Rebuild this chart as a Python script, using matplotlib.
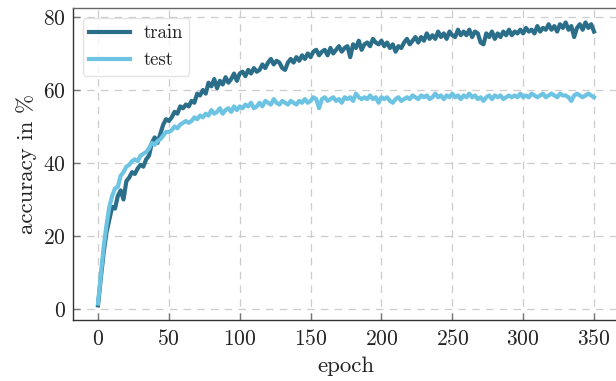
import matplotlib
matplotlib.use("Agg")
import matplotlib.pyplot as plt

epochs = list(range(0, 351, 2))

train_acc = [
    1.0, 8.5, 15.5, 21.0, 24.5, 28.0, 27.5, 31.0, 32.5, 30.0,
    35.0, 36.0, 37.5, 37.0, 38.5, 39.5, 39.0, 41.0, 42.0, 45.5,
    47.0, 45.5, 48.0, 50.5, 52.0, 51.5, 52.5, 54.0, 53.5, 55.5,
    55.0, 56.0, 55.5, 57.0, 56.5, 59.0, 58.5, 60.0, 59.0, 62.0,
    61.0, 63.0, 60.5, 62.5, 61.5, 63.5, 62.0, 63.0, 64.5, 62.5,
    64.5, 65.0, 63.8, 65.5, 64.5, 66.0, 65.0, 65.5, 67.0, 66.0,
    67.5, 68.5, 67.0, 68.0, 67.5, 66.0, 65.5, 67.5, 68.5, 67.5,
    69.0, 68.0, 69.5, 68.5, 70.0, 69.0, 70.5, 71.0, 69.5, 70.5,
    71.0, 69.5, 71.5, 70.0, 71.0, 72.0, 70.5, 71.5, 72.0, 69.0,
    72.5, 71.5, 73.5, 71.0, 72.5, 73.0, 72.0, 74.0, 73.0, 72.5,
    73.5, 72.0, 73.0, 71.5, 72.5, 70.5, 72.0, 71.5, 73.0, 74.0,
    72.5, 73.5, 74.5, 73.0, 74.5, 73.5, 75.5, 74.0, 75.0, 74.0,
    76.0, 74.5, 75.5, 74.0, 76.0, 75.0, 74.5, 76.5, 75.0, 76.0,
    75.0, 76.5, 74.5, 76.0, 75.5, 73.0, 72.5, 75.5, 74.5, 76.0,
    74.0, 75.5, 74.5, 76.0, 75.0, 76.5, 75.0, 76.0, 75.5, 76.5,
    75.5, 77.0, 76.0, 76.5, 75.5, 77.5, 76.0, 77.0, 76.5, 78.0,
    76.5, 77.5, 76.0, 78.0, 77.0, 78.5, 76.5, 77.5, 74.5, 77.0,
    78.0, 76.5, 78.5, 77.0, 78.0, 76.0,
]

test_acc = [
    1.5, 9.5, 17.0, 23.0, 28.0, 31.0, 33.0, 33.5, 36.5, 37.5,
    39.0, 39.5, 40.5, 41.0, 40.5, 42.0, 42.5, 43.0, 44.0, 45.5,
    45.0, 46.0, 46.5, 47.5, 48.5, 48.5, 49.0, 50.0, 49.5, 50.5,
    51.0, 51.5, 51.0, 51.5, 52.5, 52.0, 53.0, 52.5, 53.5, 53.0,
    54.5, 53.5, 54.0, 55.0, 53.5, 54.5, 55.0, 54.0, 55.5, 54.5,
    55.5, 55.0, 56.0, 55.5, 56.5, 55.0, 55.5, 56.5, 55.5, 57.0,
    56.5, 56.0, 57.5, 56.5, 56.0, 57.0, 56.5, 56.0, 57.0, 56.5,
    56.0, 57.0, 56.5, 57.5, 56.5, 57.0, 58.0, 57.5, 55.0, 57.5,
    58.0, 57.0, 57.5, 58.0, 57.0, 57.5, 56.5, 58.0, 57.5, 58.0,
    57.0, 59.0, 58.0, 57.5, 58.0, 57.5, 58.5, 57.5, 58.0, 56.5,
    58.0, 57.5, 58.0, 57.0, 56.5, 57.5, 58.0, 57.0, 57.5, 58.0,
    57.5, 58.5, 58.0, 57.5, 58.5, 58.0, 58.5, 57.5, 58.0, 59.0,
    58.0, 58.5, 57.5, 58.5, 58.0, 59.0, 58.0, 58.5, 57.5, 58.5,
    58.0, 59.0, 58.0, 58.5, 57.5, 58.0, 57.0, 58.0, 58.5, 57.5,
    58.5, 58.0, 58.5, 57.5, 58.0, 58.5, 58.0, 58.5, 58.0, 59.0,
    58.0, 58.5, 58.0, 59.0, 58.5, 58.0, 58.5, 59.0, 58.0, 58.5,
    59.0, 58.5, 58.0, 59.0, 58.5, 58.5, 58.0, 57.0, 58.5, 59.0,
    58.5, 58.0, 58.5, 59.0, 58.5, 58.0,
]

x_ticks = [0, 50, 100, 150, 200, 250, 300, 350]
y_ticks = [0, 20, 40, 60, 80]
series_labels = ["train", "test"]

plt.rcParams["font.family"] = ["cmr10", "DejaVu Serif"]
plt.rcParams["axes.formatter.use_mathtext"] = True
plt.rcParams["mathtext.fontset"] = "cm"

fig = plt.figure(figsize=(6.16, 3.81), dpi=100)
ax = fig.add_axes([73.2 / 616, (381 - 319.5) / 381, 545.6 / 616, (319.5 - 8.3) / 381])

c_train = "#2b6e89"
c_test = "#6dc4e2"
ax.plot(epochs, train_acc, color=c_train, lw=3.0, label=series_labels[0], zorder=3)
ax.plot(epochs, test_acc, color=c_test, lw=3.0, label=series_labels[1], zorder=3)

ax.set_xlim(-17.5, 367.5)
ax.set_ylim(-2.875, 82.375)
ax.set_xticks(x_ticks)
ax.set_yticks(y_ticks)

ax.grid(True, color="#cccccc", linestyle=(0, (6, 5)), linewidth=0.9, zorder=0)
ax.set_axisbelow(True)

ax.spines["top"].set_color("#666666")
for s in ["left", "bottom", "right"]:
    ax.spines[s].set_color("#333333")
for s in ["top", "left", "bottom", "right"]:
    ax.spines[s].set_linewidth(1.0)

ax.tick_params(direction="in", length=5, width=1.0, color="#777777",
               labelsize=15.5, labelcolor="#222222")
ax.tick_params(axis="x", pad=7)
ax.tick_params(axis="y", pad=5)

ax.set_xlabel("epoch", fontsize=16.5, color="#222222", labelpad=5)
ax.set_ylabel("accuracy in %", fontsize=16.5, color="#222222", labelpad=5)

leg = ax.legend(loc="upper left", fontsize=13.5, frameon=True, fancybox=True,
                handlelength=2.2, borderpad=0.35, labelspacing=0.5,
                handletextpad=0.7, borderaxespad=0.5)
leg.get_frame().set_edgecolor("#dddddd")
leg.get_frame().set_linewidth(1.0)
for t in leg.get_texts():
    t.set_color("#222222")

fig.savefig("out.png", dpi=100)
